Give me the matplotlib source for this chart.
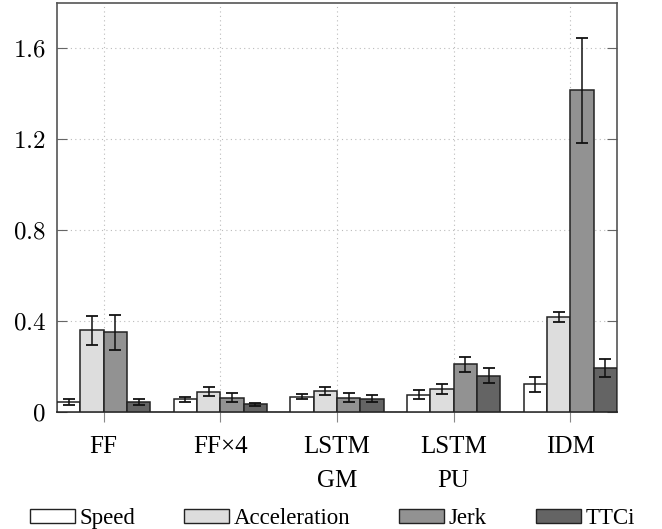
import numpy as np
import matplotlib
matplotlib.use('Agg')
import matplotlib.pyplot as plt
from matplotlib.patches import Patch

# Data
models = ['FF', 'FF×4', 'LSTM\nGM', 'LSTM\nPU', 'IDM']
metrics = ['Speed', 'Acceleration', 'Jerk', 'TTCi']

speed = [0.044, 0.057, 0.066, 0.076, 0.122]
speed_err = [0.013, 0.011, 0.011, 0.019, 0.033]
accel = [0.359, 0.090, 0.093, 0.101, 0.418]
accel_err = [0.063, 0.018, 0.018, 0.020, 0.020]
jerk = [0.351, 0.062, 0.062, 0.209, 1.415]
jerk_err = [0.076, 0.020, 0.020, 0.035, 0.230]
ttci = [0.045, 0.034, 0.059, 0.159, 0.194]
ttci_err = [0.014, 0.006, 0.015, 0.033, 0.040]

values = [speed, accel, jerk, ttci]
errors = [speed_err, accel_err, jerk_err, ttci_err]
colors = ['#ffffff', '#dddddd', '#929292', '#646464']

serif = 'Liberation Serif'
plt.rcParams['font.family'] = [serif, 'DejaVu Serif']
plt.rcParams['mathtext.fontset'] = 'cm'

fig = plt.figure(figsize=(6.62, 5.29), dpi=100)
ax = fig.add_axes([0.0861, 0.2212, 0.8459, 0.7731])

x = np.arange(len(models))
width = 0.2
for i, (vals, errs, col) in enumerate(zip(values, errors, colors)):
    ax.bar(x + (i - 1.5) * width, vals, width, color=col, edgecolor='#222222',
           linewidth=1.1, zorder=3)
    ax.errorbar(x + (i - 1.5) * width, vals, yerr=errs, fmt='none',
                ecolor='#111111', elinewidth=1.1, capsize=4, capthick=1.3, zorder=4)

ax.set_xlim(-0.4, 4.4)
ax.set_ylim(0, 1.8)
ax.set_xticks(x)
ax.set_xticklabels(models, fontsize=18, linespacing=1.75, fontfamily=serif)
ax.set_yticks([0, 0.4, 0.8, 1.2, 1.6])
ax.set_yticklabels(['$0$', '$0.4$', '$0.8$', '$1.2$', '$1.6$'], fontsize=18)

ax.grid(True, linestyle=(0, (1, 3)), color='#bbbbbb', linewidth=0.8, zorder=0)
ax.set_axisbelow(True)

ax.tick_params(axis='y', direction='in', length=7, color='#666666',
               left=True, right=True, pad=8)
ax.tick_params(axis='x', direction='out', length=7, color='#888888', pad=10)
for sp in ax.spines.values():
    sp.set_color('#555555')
    sp.set_linewidth(1.2)
ax.spines['bottom'].set_color('#222222')

handles = [Patch(facecolor=c, edgecolor='#222222', linewidth=1.0) for c in colors]
fig.legend(handles, metrics, loc='center', bbox_to_anchor=(0.502, 0.02), ncol=4,
           frameon=False, prop={'family': serif, 'size': 16.5},
           handlelength=1.95, handleheight=0.6,
           handletextpad=0.2, columnspacing=2.15, borderaxespad=0)

fig.savefig('out.png', dpi=100)
